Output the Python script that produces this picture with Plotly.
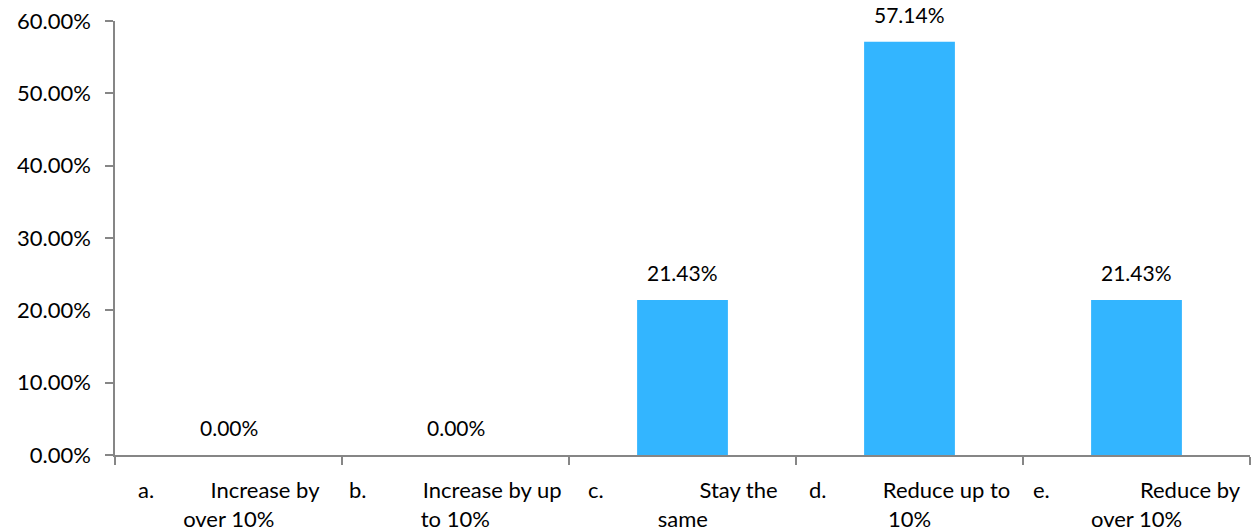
import plotly.graph_objects as go

# Survey responses: share of respondents per option
letters = ["a.", "b.", "c.", "d.", "e."]
line1 = ["Increase by", "Increase by up", "Stay the", "Reduce up to", "Reduce by"]
line2 = ["over 10%", "to 10%", "same", "10%", "over 10%"]
gaps = [10, 10, 17, 10, 16]       # spacing between letter and wording
values = [0.00, 0.00, 21.43, 57.14, 21.43]
y_ticks = [0, 10, 20, 30, 40, 50, 60]

BAR = "#33B5FF"
AXIS = "#868686"
FONT = "Lato"

x = list(range(len(values)))

fig = go.Figure()
fig.add_trace(go.Bar(
    x=x, y=values, width=0.4,
    marker=dict(color=BAR, line=dict(width=0)),
    hoverinfo="skip",
))

annotations = []
for i, v in enumerate(values):
    annotations.append(dict(
        x=i, y=v, xref="x", yref="y", text=f"{v:.2f}%",
        showarrow=False, yanchor="bottom", yshift=13,
        font=dict(family=FONT, size=21, color="#000000"),
    ))
    label = (letters[i] + "\u00a0" * gaps[i] + line1[i] + "<br>" + line2[i])
    annotations.append(dict(
        x=i, y=0, xref="x", yref="paper", text=label,
        showarrow=False, yanchor="top", yshift=-19, align="center",
        font=dict(family=FONT, size=22, color="#000000"),
    ))

fig.update_layout(
    width=1254, height=532,
    margin=dict(l=115, r=4, t=21, b=77),
    paper_bgcolor="white", plot_bgcolor="white",
    showlegend=False,
    font=dict(family=FONT, size=21, color="#000000"),
    annotations=annotations,
    xaxis=dict(
        range=[-0.5, len(values) - 0.5],
        tickmode="array",
        tickvals=[i - 0.5 for i in range(len(values) + 1)],
        ticktext=[""] * (len(values) + 1),
        ticks="outside", ticklen=8, tickwidth=1.5, tickcolor=AXIS,
        showline=True, linecolor=AXIS, linewidth=1.5,
        showgrid=False, zeroline=False, fixedrange=True,
    ),
    yaxis=dict(
        range=[0, 60],
        tickmode="array",
        tickvals=y_ticks,
        ticktext=[f"{t:.2f}%" for t in y_ticks],
        ticks="outside", ticklen=8, tickwidth=1.5, tickcolor=AXIS,
        showline=True, linecolor=AXIS, linewidth=1.5,
        showgrid=False, zeroline=False, fixedrange=True,
        tickfont=dict(family=FONT, size=22, color="#000000"),
        ticklabelstandoff=10,
    ),
)

fig.write_html("out.html", config={"displayModeBar": False})
